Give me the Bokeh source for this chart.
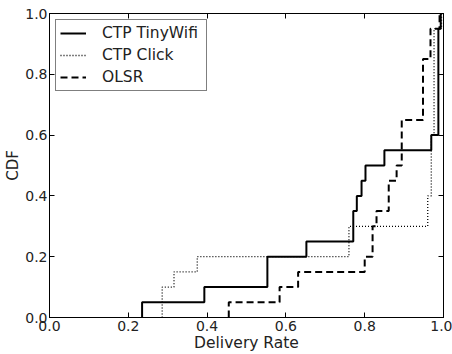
import numpy as np
from bokeh.plotting import figure
from bokeh.models import (LinearAxis, FixedTicker, PrintfTickFormatter, Range1d,
                          Legend, LegendItem)
from bokeh.embed import file_html
from bokeh.resources import INLINE

# Delivery-rate samples (each sample = one CDF step of 0.05)
series_names = ["CTP TinyWifi", "CTP Click", "OLSR"]
tinywifi = [0.235, 0.393, 0.553, 0.553, 0.652, 0.771, 0.771, 0.780, 0.792, 0.802,
            0.850, 0.969, 0.987, 0.987, 0.987, 0.987, 0.987, 0.987, 0.987, 0.993]
click = [0.286, 0.286, 0.316, 0.375, 0.760, 0.760, 0.960, 0.960, 0.969, 0.969,
         0.969, 0.969, 0.976, 0.976, 0.976, 0.976, 0.976, 0.976, 0.976, 0.995]
olsr = [0.455, 0.584, 0.631, 0.800, 0.820, 0.820, 0.830, 0.861, 0.861, 0.881,
        0.894, 0.894, 0.894, 0.948, 0.948, 0.948, 0.948, 0.967, 0.967, 0.990]
tick_values = [0.0, 0.2, 0.4, 0.6, 0.8, 1.0]
x_label = "Delivery Rate"
y_label = "CDF"

FONT = "DejaVu Sans"

p = figure(width=452, height=354, output_backend="svg", toolbar_location=None,
           x_range=Range1d(0, 1), y_range=Range1d(0, 1),
           min_border_left=49, min_border_right=9, min_border_top=13,
           min_border_bottom=35)
p.grid.visible = False
p.outline_line_color = "black"
p.outline_line_width = 1
p.background_fill_color = "white"
p.border_fill_color = "white"

def style_axis(ax, labels=True):
    ax.ticker = FixedTicker(ticks=tick_values)
    ax.major_tick_in = 5
    ax.major_tick_out = 0
    ax.minor_tick_line_color = None
    ax.axis_line_color = "black"
    ax.major_tick_line_color = "black"
    ax.major_label_text_font = FONT
    ax.major_label_text_font_size = "14px"
    ax.major_label_text_color = "#222222"
    ax.major_label_text_line_height = 1.0
    ax.axis_label_text_font = FONT
    ax.axis_label_text_font_size = "15.5px"
    ax.axis_label_text_font_style = "normal"
    ax.axis_label_text_color = "#222222"
    ax.axis_label_text_line_height = 1.0
    if labels:
        ax.formatter = PrintfTickFormatter(format="%.1f")
    else:
        ax.major_label_overrides = {v: "" for v in tick_values}
        ax.major_label_text_font_size = "1px"
        ax.major_label_standoff = 0

style_axis(p.xaxis[0])
style_axis(p.yaxis[0])
p.xaxis[0].axis_label = x_label
p.yaxis[0].axis_label = y_label
p.xaxis[0].major_label_standoff = 3
p.yaxis[0].major_label_standoff = 2
p.xaxis[0].axis_label_standoff = 0
p.yaxis[0].axis_label_standoff = 0
p.yaxis[0].axis_label_text_font_size = "15px"

top = LinearAxis()
style_axis(top, labels=False)
p.add_layout(top, "above")
right = LinearAxis()
style_axis(right, labels=False)
p.add_layout(right, "right")

def ecdf(samples):
    xs = np.sort(np.asarray(samples, dtype=float))
    ys = np.arange(1, len(xs) + 1) / len(xs)
    xs = np.concatenate([[xs[0]], xs])
    ys = np.concatenate([[0.0], ys])
    return xs, ys

styles = [dict(line_width=2, line_dash="solid"),
          dict(line_width=1.3, line_dash="1 2"),
          dict(line_width=2, line_dash="7 4")]
items = []
for name, data, st in zip(series_names, [tinywifi, click, olsr], styles):
    xs, ys = ecdf(data)
    r = p.step(xs, ys, mode="after", line_color="black", **st)
    items.append(LegendItem(label=name, renderers=[r]))

legend = Legend(items=items, location="top_left", margin=6, padding=4,
                spacing=4, label_height=16, glyph_height=16, glyph_width=26,
                label_standoff=16, label_width=100,
                label_text_font=FONT, label_text_font_size="15.5px",
                label_text_line_height=1.0,
                label_text_color="#222222",
                border_line_color="black", border_line_width=1,
                background_fill_alpha=1.0)
p.add_layout(legend, "center")

open("out.html", "w").write(file_html(p, INLINE))
